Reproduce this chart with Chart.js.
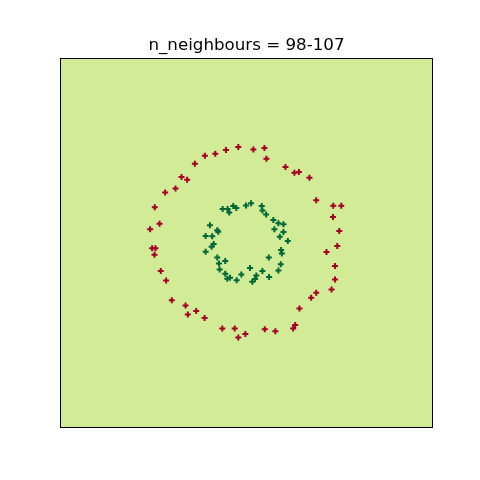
<!DOCTYPE html>
<html><head><meta charset="utf-8">
<script src="https://cdn.jsdelivr.net/npm/chart.js@4/dist/chart.umd.min.js"></script>
<style>html,body{margin:0;padding:0;background:#fff}canvas{display:block}</style>
</head><body>
<canvas id="c" width="480" height="480"></canvas>
<script>
const titleText = "n_neighbours = 98-107";
const outerX = [-0.081,0.077,0.193,-0.211,-0.323,-0.432,0.214,-0.537,0.414,0.508,0.555,0.666,-0.677,-0.618,-0.740,-0.849,0.737,0.916,1.000,-0.958,0.913,-0.908,-1.007,0.979,-0.986,-0.951,-0.961,0.958,0.845,-0.895,0.934,-0.839,0.934,0.898,0.737,0.684,-0.779,-0.635,-0.523,-0.611,-0.435,0.561,0.516,0.495,-0.249,-0.119,-0.007,-0.081,0.197,0.308];
const outerY = [1.002,0.977,0.992,0.971,0.932,0.911,0.879,0.826,0.792,0.732,0.739,0.679,0.689,0.658,0.566,0.524,0.444,0.387,0.387,0.371,0.268,0.198,0.139,0.121,-0.061,-0.061,-0.128,-0.037,-0.100,-0.300,-0.247,-0.398,-0.387,-0.493,-0.528,-0.581,-0.605,-0.661,-0.718,-0.756,-0.792,-0.693,-0.865,-0.903,-0.903,-0.903,-0.960,-0.998,-0.911,-0.932];
const innerX = [-0.245,-0.193,-0.176,-0.134,-0.102,0.000,0.053,0.165,0.172,0.211,0.287,0.340,0.393,0.298,0.393,0.355,0.439,-0.379,-0.424,-0.355,-0.302,-0.292,-0.340,-0.361,-0.424,-0.302,-0.284,-0.218,-0.277,-0.218,-0.197,-0.168,-0.098,-0.049,0.042,0.239,0.368,0.376,0.365,0.340,0.172,0.108,0.242,0.095,0.066];
const innerY = [0.353,0.353,0.314,0.384,0.363,0.389,0.411,0.384,0.335,0.293,0.237,0.202,0.192,0.139,0.111,0.061,0.016,0.181,0.068,0.065,0.128,0.114,-0.016,-0.044,-0.097,-0.156,-0.219,-0.195,-0.282,-0.328,-0.381,-0.371,-0.395,-0.335,-0.268,-0.156,-0.079,-0.114,-0.229,-0.293,-0.300,-0.345,-0.363,-0.384,-0.413];
const xRange = [-1.953, 1.963];
const yRange = [-1.947, 1.937];

const toPts = (xs, ys) => xs.map((x, i) => ({x: x, y: ys[i]}));

const framePlugin = {
  id: 'frame',
  beforeDatasetsDraw(chart) {
    const {ctx, chartArea: a} = chart;
    ctx.save();
    ctx.fillStyle = '#d1eb97';
    ctx.fillRect(a.left, a.top, a.right - a.left, a.bottom - a.top);
    ctx.restore();
  },
  afterDatasetsDraw(chart) {
    const {ctx, chartArea: a} = chart;
    ctx.save();
    ctx.strokeStyle = '#000';
    ctx.lineWidth = 1;
    ctx.strokeRect(a.left + 0.5, a.top + 0.5, a.right - a.left - 1, a.bottom - a.top - 1);
    ctx.fillStyle = '#000';
    ctx.font = '16.7px "DejaVu Sans"';
    ctx.textAlign = 'center';
    ctx.textBaseline = 'alphabetic';
    ctx.fillText(titleText, (a.left + a.right) / 2, a.top - 8);
    ctx.restore();
  }
};

new Chart(document.getElementById('c'), {
  type: 'scatter',
  data: {
    datasets: [
      {data: toPts(outerX, outerY), pointStyle: 'cross', radius: 3, borderWidth: 2, borderColor: '#a50026', backgroundColor: '#a50026'},
      {data: toPts(innerX, innerY), pointStyle: 'cross', radius: 3, borderWidth: 2, borderColor: '#006837', backgroundColor: '#006837'}
    ]
  },
  options: {
    responsive: false,
    animation: false,
    layout: {padding: {left: 60, right: 47, top: 58, bottom: 52}},
    plugins: {legend: {display: false}, tooltip: {enabled: false}, title: {display: false}},
    scales: {
      x: {display: false, min: xRange[0], max: xRange[1]},
      y: {display: false, min: yRange[0], max: yRange[1]}
    }
  },
  plugins: [framePlugin]
});
</script>
</body></html>
